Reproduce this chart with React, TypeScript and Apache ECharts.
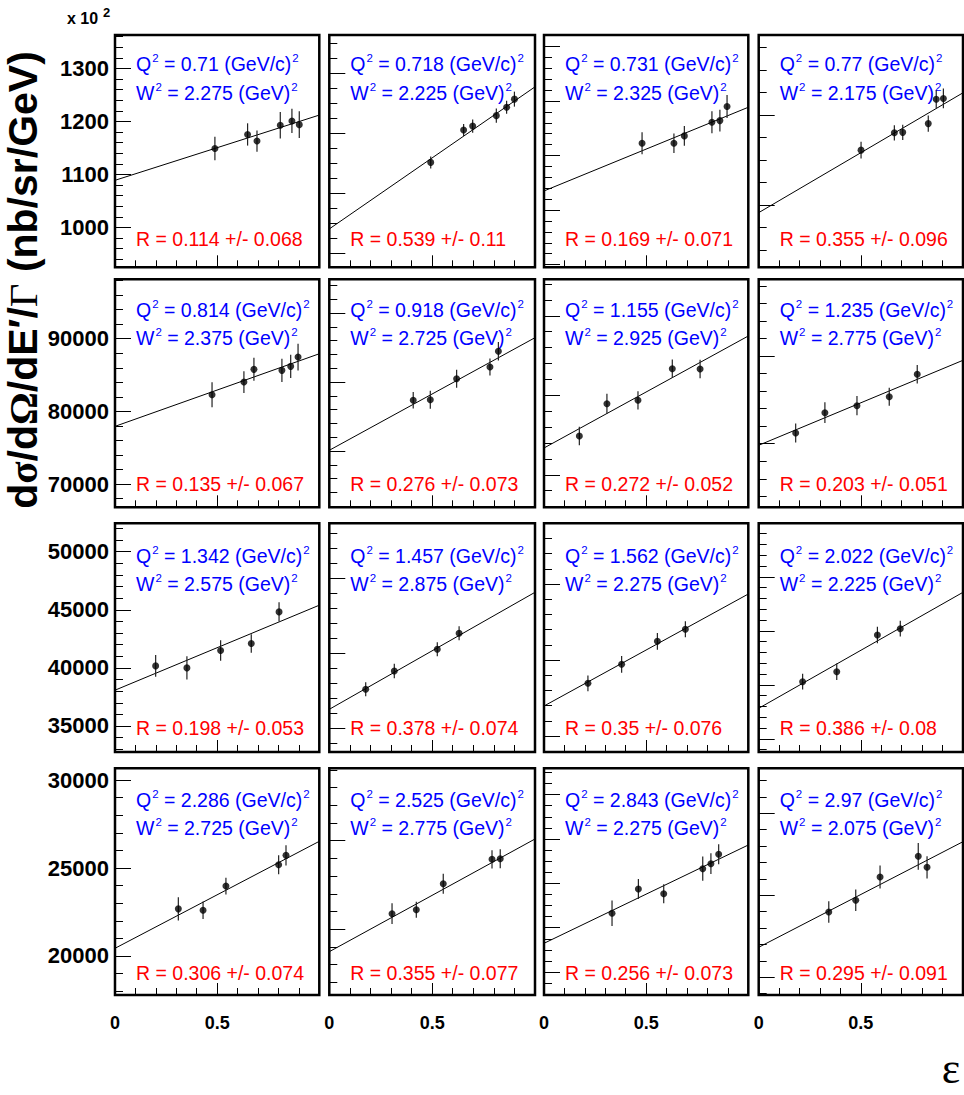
import React, { useEffect, useRef } from "react";
import * as echarts from "echarts";

// ---------- data ----------
const Q2 = ["0.71", "0.718", "0.731", "0.77", "0.814", "0.918", "1.155", "1.235", "1.342", "1.457", "1.562", "2.022", "2.286", "2.525", "2.843", "2.97"];
const W2 = ["2.275", "2.225", "2.325", "2.175", "2.375", "2.725", "2.925", "2.775", "2.575", "2.875", "2.275", "2.225", "2.725", "2.775", "2.275", "2.075"];
const R = ["0.114", "0.539", "0.169", "0.355", "0.135", "0.276", "0.272", "0.203", "0.198", "0.378", "0.35", "0.386", "0.306", "0.355", "0.256", "0.295"];
const dR = ["0.068", "0.11", "0.071", "0.096", "0.067", "0.073", "0.052", "0.051", "0.053", "0.074", "0.076", "0.08", "0.074", "0.077", "0.073", "0.091"];

const eps = [
  [0.489, 0.649, 0.695, 0.809, 0.866, 0.902],
  [0.493, 0.653, 0.697, 0.812, 0.862, 0.9],
  [0.48, 0.636, 0.687, 0.822, 0.861, 0.896],
  [0.501, 0.664, 0.705, 0.83, 0.869, 0.904],
  [0.475, 0.631, 0.68, 0.817, 0.86, 0.896],
  [0.408, 0.491, 0.619, 0.781, 0.822],
  [0.173, 0.308, 0.46, 0.628, 0.764],
  [0.181, 0.324, 0.481, 0.639, 0.776],
  [0.199, 0.352, 0.517, 0.667, 0.803],
  [0.177, 0.316, 0.525, 0.631],
  [0.215, 0.38, 0.555, 0.692],
  [0.215, 0.382, 0.581, 0.693],
  [0.31, 0.431, 0.543, 0.801, 0.837],
  [0.305, 0.423, 0.554, 0.791, 0.831],
  [0.333, 0.462, 0.586, 0.777, 0.817, 0.855],
  [0.343, 0.475, 0.594, 0.781, 0.824],
];
const sigma = [
  [1149, 1175.5, 1163, 1193, 1201, 1194],
  [1102, 1210, 1223, 1258, 1286, 1313],
  [1022.5, 1022.5, 1036, 1061, 1064, 1090],
  [922, 960.6, 961.5, 981, 1035, 1037],
  [82285, 84033, 85781, 85644, 86194, 87474],
  [67364, 67450, 70494, 72190, 74465],
  [54883, 58946, 59373, 63348, 63310],
  [51222, 53537, 54335, 55362, 57916],
  [40172, 40000, 41497, 42100, 44819],
  [45200, 47640, 50533, 52667],
  [46934, 49434, 52461, 54040],
  [30290, 31216, 34614, 35197],
  [22678, 22604, 23973, 25188, 25719],
  [20879, 21105, 22572, 23949, 23983],
  [18651, 19746, 19534, 20660, 20885, 21309],
  [23983, 24697, 26118, 27380, 26709],
];
const sigmaErr = [
  [22, 21, 20, 25, 23, 25],
  [20, 20, 22, 24, 22, 25],
  [20, 18, 18, 20, 20, 21],
  [18.5, 17, 17, 18, 20, 22],
  [1720, 1490, 1580, 1600, 1600, 1835],
  [1200, 1300, 1300, 1230, 1330],
  [1150, 1260, 1150, 1170, 1150],
  [1080, 1180, 1100, 1030, 1050],
  [930, 1000, 890, 790, 830],
  [930, 960, 930, 930],
  [1030, 1100, 1100, 1050],
  [725, 770, 770, 725],
  [665, 495, 475, 540, 570],
  [583, 450, 565, 517, 536],
  [578, 450, 428, 548, 466, 450],
  [660, 660, 700, 813, 680],
];
// fitted line values at epsilon = 0 and epsilon = 1
const fitAt0 = [1089, 880, 935, 783, 77935, 60118, 53373, 49820, 38081, 42533, 43947, 27826, 20437, 18735, 17299, 21831];
const fitAt1 = [1212, 1354, 1088.5, 1049.5, 87928, 76437, 67462, 59513, 45396, 58133, 58684, 38568, 26517, 25095, 21728, 28271];

// y axis ranges and ticks
const yMin = [925, 752, 795, 661.5, 66793, 51856, 45913, 42750, 32762, 36840, 37895, 23780, 17784, 16291, 14970, 18922];
const yMax = [1363, 1527, 1221, 1178, 98176, 84900, 74593, 68749, 52444, 67333, 67987, 44957, 30665, 29084, 25183, 32746];
const yMajor = [100, 200, 100, 200, 10000, 10000, 10000, 10000, 5000, 10000, 10000, 5000, 5000, 5000, 2000, 5000];
const yMinorSplit = [5, 4, 5, 4, 5, 5, 5, 5, 5, 5, 5, 5, 5, 5, 4, 5];
const xTickLabels = ["0", "0.5"];

// ---------- layout ----------
const COL_LEFT = [115, 329.3, 544, 758.7];
const COL_WIDTH = [204.3, 205.7, 204.3, 204.3];
const ROW_TOP = [35, 279.3, 523.3, 768.3];
const ROW_HEIGHT = [232.3, 228, 228.7, 226.7];
const Q_Y = [63.3, 309.3, 555, 799.3];
const W_Y = [91.7, 337, 582.7, 826.7];
const R_Y = [239, 483.7, 728.3, 973.3];
const TEXT_DX = 21;

const SANS = '"Liberation Sans", Arial, sans-serif';
const SERIF = '"Liberation Serif", "Times New Roman", serif';

function richText(color: string) {
  return {
    t: { fontSize: 19.5, fontFamily: SANS, fill: color, lineHeight: 22, verticalAlign: "bottom" },
    s: { fontSize: 11.5, fontFamily: SANS, fill: color, lineHeight: 22, verticalAlign: "top", padding: [0, 0, 0, 1] },
  };
}

function buildOption() {
  const grid: any[] = [];
  const xAxis: any[] = [];
  const yAxis: any[] = [];
  const series: any[] = [];
  const graphic: any[] = [];

  for (let i = 0; i < 16; i++) {
    const r = Math.floor(i / 4);
    const c = i % 4;
    grid.push({
      left: COL_LEFT[c],
      top: ROW_TOP[r],
      width: COL_WIDTH[c],
      height: ROW_HEIGHT[r],
      show: true,
      borderColor: "#000",
      borderWidth: 2.5,
      backgroundColor: "transparent",
      containLabel: false,
      outerBoundsMode: "none",
    });
    xAxis.push({
      gridIndex: i,
      type: "value",
      min: 0,
      max: 1,
      interval: 0.5,
      axisLine: { show: false },
      axisTick: { show: true, inside: true, length: 12, lineStyle: { color: "#000", width: 1 } },
      minorTick: { show: true, splitNumber: 5, length: 7, lineStyle: { color: "#000", width: 1 } },
      splitLine: { show: false },
      minorSplitLine: { show: false },
      axisLabel: {
        show: r === 3,
        showMaxLabel: false,
        margin: 19,
        fontSize: 18,
        fontWeight: "bold",
        fontFamily: SANS,
        color: "#000",
        formatter: (v: number) => (v === 0 ? xTickLabels[0] : v === 0.5 ? xTickLabels[1] : ""),
      },
    });
    yAxis.push({
      gridIndex: i,
      type: "value",
      min: yMin[i],
      max: yMax[i],
      minInterval: yMajor[i],
      maxInterval: yMajor[i],
      axisLine: { show: false },
      axisTick: { show: true, inside: true, length: 16, lineStyle: { color: "#000", width: 1 } },
      minorTick: { show: true, splitNumber: yMinorSplit[i], length: 8, lineStyle: { color: "#000", width: 1 } },
      splitLine: { show: false },
      minorSplitLine: { show: false },
      axisLabel: {
        show: c === 0,
        showMinLabel: false,
        showMaxLabel: false,
        margin: 6,
        fontSize: 22,
        fontWeight: "bold",
        fontFamily: SANS,
        color: "#000",
        formatter: (v: number) => String(v),
      },
    });

    series.push({
      type: "line",
      xAxisIndex: i,
      yAxisIndex: i,
      data: [
        [0, fitAt0[i]],
        [1, fitAt1[i]],
      ],
      symbol: "none",
      lineStyle: { color: "#000", width: 1 },
      silent: true,
      z: 2,
    });
    series.push({
      type: "custom",
      xAxisIndex: i,
      yAxisIndex: i,
      data: eps[i].map((e, j) => [e, sigma[i][j], sigmaErr[i][j]]),
      encode: { x: 0, y: 1 },
      renderItem: (params: any, api: any) => {
        const x = api.value(0);
        const y = api.value(1);
        const e = api.value(2);
        const p1 = api.coord([x, y - e]);
        const p2 = api.coord([x, y + e]);
        return {
          type: "line",
          shape: { x1: p1[0], y1: p1[1], x2: p2[0], y2: p2[1] },
          style: { stroke: "#222", lineWidth: 1.2 },
        };
      },
      silent: true,
      z: 3,
    });
    series.push({
      type: "scatter",
      xAxisIndex: i,
      yAxisIndex: i,
      data: eps[i].map((e, j) => [e, sigma[i][j]]),
      symbol: "circle",
      symbolSize: 7,
      itemStyle: { color: "#000" },
      silent: true,
      z: 4,
    });

    const tx = COL_LEFT[c] + TEXT_DX;
    graphic.push({
      type: "text",
      x: tx,
      y: Q_Y[r],
      style: {
        text: `{t|Q}{s|2}{t| = ${Q2[i]} (GeV/c)}{s|2}`,
        rich: richText("#0000ff"),
        align: "left",
        verticalAlign: "middle",
      },
    });
    graphic.push({
      type: "text",
      x: tx,
      y: W_Y[r],
      style: {
        text: `{t|W}{s|2}{t| = ${W2[i]} (GeV)}{s|2}`,
        rich: richText("#0000ff"),
        align: "left",
        verticalAlign: "middle",
      },
    });
    graphic.push({
      type: "text",
      x: tx,
      y: R_Y[r],
      style: {
        text: `R = ${R[i]} +/- ${dR[i]}`,
        fill: "#ff0000",
        fontSize: 19.5,
        fontFamily: SANS,
        align: "left",
        verticalAlign: "middle",
      },
    });
  }

  // y-axis title (rotated)
  graphic.push({
    type: "text",
    x: 23,
    y: 280,
    rotation: Math.PI / 2,
    style: {
      text: "{b|d}{g|σ}{b|/d}{g|Ω}{b|/dE′/}{n|Γ}{b| (nb/sr/GeV)}",
      align: "center",
      verticalAlign: "middle",
      rich: {
        b: { fontSize: 41, fontWeight: "bold", fontFamily: SANS, fill: "#000" },
        g: { fontSize: 41, fontWeight: "bold", fontFamily: SERIF, fill: "#000" },
        n: { fontSize: 41, fontWeight: "normal", fontFamily: SERIF, fill: "#000" },
      },
    },
  });
  // x 10^2 factor
  graphic.push({
    type: "text",
    x: 67,
    y: 18,
    style: { text: "x 10", fill: "#000", fontSize: 16, fontWeight: "bold", fontFamily: SANS, align: "left", verticalAlign: "middle" },
  });
  graphic.push({
    type: "text",
    x: 103,
    y: 12,
    style: { text: "2", fill: "#000", fontSize: 13, fontWeight: "bold", fontFamily: SANS, align: "left", verticalAlign: "middle" },
  });
  // epsilon axis title
  graphic.push({
    type: "text",
    x: 951,
    y: 1068,
    style: { text: "ε", fill: "#000", fontSize: 44, fontFamily: SERIF, align: "center", verticalAlign: "middle" },
  });

  return {
    animation: false,
    backgroundColor: "#fff",
    grid,
    xAxis,
    yAxis,
    series,
    graphic,
  };
}

export default function App() {
  const ref = useRef<HTMLDivElement>(null);
  useEffect(() => {
    if (!ref.current) return;
    const chart = echarts.init(ref.current, undefined, { renderer: "svg" });
    chart.setOption(buildOption() as any);
    return () => chart.dispose();
  }, []);
  return (
    <div
      ref={ref}
      style={{ position: "absolute", left: 0, top: 0, width: 964, height: 1095, background: "#fff" }}
    />
  );
}
